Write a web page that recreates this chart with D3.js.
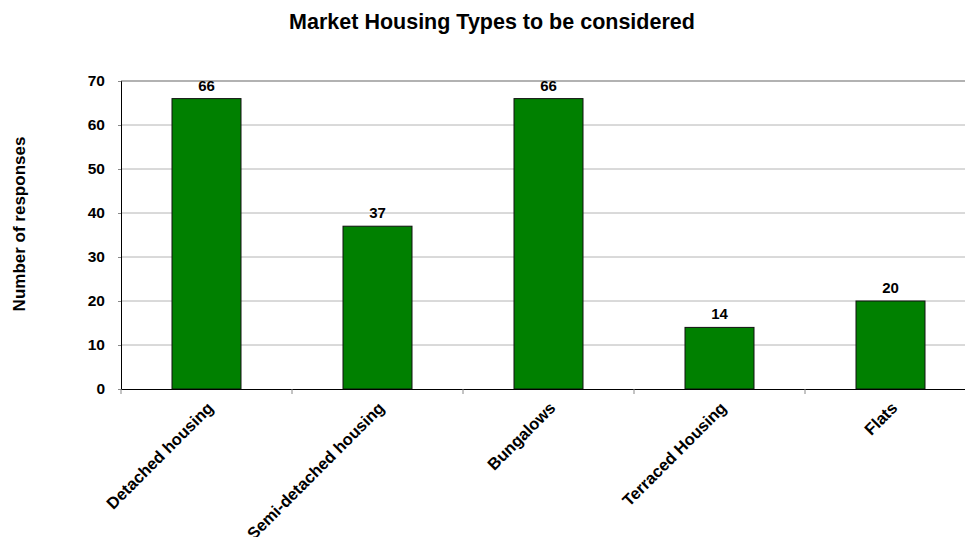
<!DOCTYPE html>
<html><head><meta charset="utf-8">
<script src="https://cdn.jsdelivr.net/npm/d3@7"></script>
<style>body{margin:0;background:#fff}svg{display:block;font-family:"Liberation Sans",Arial,sans-serif}</style>
</head><body>
<svg id="c" width="965" height="537"></svg>
<script>
const categories = ["Detached housing","Semi-detached housing","Bungalows","Terraced Housing","Flats"];
const values = [66,37,66,14,20];
const yTicks = [0,10,20,30,40,50,60,70];
const title = "Market Housing Types to be considered";
const yTitle = "Number of responses";

(function(){
const svg = d3.select("#c");
const mL = 121, mR = 976, mT = 81, mB = 389;
const xb = d3.scaleBand().domain(categories).range([mL, mR]);
const y = d3.scaleLinear().domain([0,70]).range([mB, mT]);

// gridlines
svg.append("g").selectAll("line").data(yTicks.filter(d=>d>0)).join("line")
  .attr("x1", mL).attr("x2", 965).attr("y1", d=>y(d)).attr("y2", d=>y(d))
  .attr("stroke", d=> d===70 ? "#999" : "#b4b4b4").attr("stroke-width", d=> d===70?1.5:1);

// bars
svg.append("g").selectAll("rect").data(values).join("rect")
  .attr("x", (d,i)=>xb(categories[i]) + xb.bandwidth()/2 - 34.5)
  .attr("width", 69)
  .attr("y", d=>y(d)).attr("height", d=>y(0)-y(d))
  .attr("fill", "#008000").attr("stroke", "#111").attr("stroke-width", 1);

// value labels
svg.append("g").selectAll("text").data(values).join("text")
  .attr("x", (d,i)=>xb(categories[i]) + xb.bandwidth()/2)
  .attr("y", d=>y(d)-8)
  .attr("text-anchor","middle").attr("font-weight","bold").attr("font-size",15)
  .text(d=>d);

// y axis
const ya = d3.axisLeft(y).tickValues(yTicks).tickSize(3).tickPadding(13);
const gy = svg.append("g").attr("transform",`translate(${mL},0)`).call(ya);
gy.select(".domain").attr("stroke","#000");
gy.selectAll(".tick line").attr("stroke","#888");
gy.selectAll("text").attr("font-size",15.5).attr("font-weight","bold").attr("fill","#000")
  .attr("font-family","Liberation Sans, Arial, sans-serif");

// x axis
const xa = d3.axisBottom(xb).tickSize(0).tickFormat(()=>"");
const gx = svg.append("g").attr("transform",`translate(0,${mB})`).call(xa);
gx.select(".domain").attr("stroke","#000");
const bounds = categories.map(c=>xb(c));
svg.append("g").selectAll("line").data(bounds).join("line")
  .attr("x1",d=>d).attr("x2",d=>d).attr("y1",mB).attr("y2",mB+5).attr("stroke","#888");

// x labels
svg.append("g").selectAll("text").data(categories).join("text")
  .attr("transform", d=>`translate(${xb(d)+xb.bandwidth()/2+8},${mB+20}) rotate(-45)`)
  .attr("text-anchor","end").attr("font-size",16.5).attr("font-weight","bold")
  .text(d=>d);

// title
svg.append("text").attr("x",492).attr("y",29).attr("text-anchor","middle")
  .attr("font-size",21.5).attr("font-weight","bold").text(title);

// y title
svg.append("text").attr("transform","translate(25,224) rotate(-90)").attr("text-anchor","middle")
  .attr("font-size",17).attr("font-weight","bold").text(yTitle);
})();
</script>
</body></html>
